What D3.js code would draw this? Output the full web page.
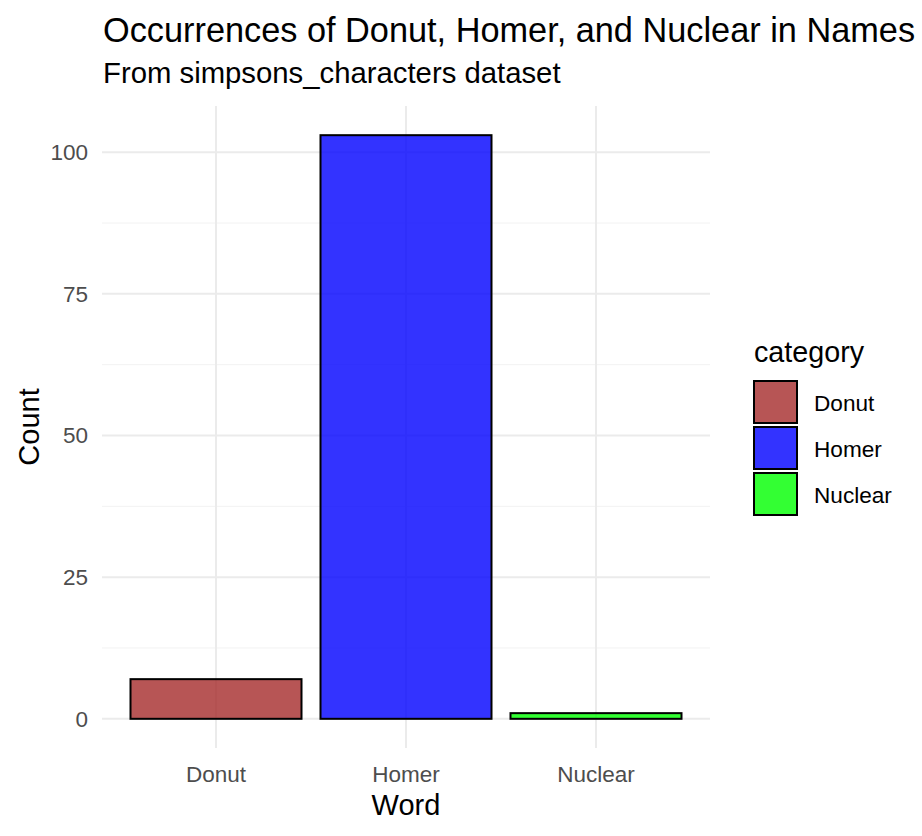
<!DOCTYPE html>
<html>
<head>
<meta charset="utf-8">
<script src="https://cdn.jsdelivr.net/npm/d3@7"></script>
<style>
  body { margin: 0; background: #fff; }
  text { font-family: "Liberation Sans", Arial, sans-serif; }
</style>
</head>
<body>
<div id="container"></div>
<script>
// data
var words = ["Donut", "Homer", "Nuclear"];
var counts = [7, 103, 1];
var fills = ["#A52A2A", "#0000FF", "#00FF00"];
var yTicks = [0, 25, 50, 75, 100];
var yMinor = [12.5, 37.5, 62.5, 87.5];

var W = 922, H = 836;
var panel = { left: 102, right: 710, top: 106, bottom: 748 };

var svg = d3.select("#container").append("svg")
    .attr("width", W).attr("height", H);

// discrete x like ggplot: positions 1..3 with 0.6 padding each side
var x = d3.scaleLinear().domain([0.4, 3.6]).range([panel.left, panel.right]);
var unit = x(2) - x(1);
var maxV = d3.max(counts);
var y = d3.scaleLinear().domain([-maxV * 0.05, maxV * 1.05]).range([panel.bottom, panel.top]);

// minor grid
svg.append("g").selectAll("line").data(yMinor).enter().append("line")
    .attr("x1", panel.left).attr("x2", panel.right)
    .attr("y1", d => y(d)).attr("y2", d => y(d))
    .attr("stroke", "#f2f2f2").attr("stroke-width", 1);

// major grid
svg.append("g").selectAll("line").data(yTicks).enter().append("line")
    .attr("x1", panel.left).attr("x2", panel.right)
    .attr("y1", d => y(d)).attr("y2", d => y(d))
    .attr("stroke", "#ebebeb").attr("stroke-width", 2);

svg.append("g").selectAll("line").data(words).enter().append("line")
    .attr("x1", (d, i) => x(i + 1)).attr("x2", (d, i) => x(i + 1))
    .attr("y1", panel.top).attr("y2", panel.bottom)
    .attr("stroke", "#ebebeb").attr("stroke-width", 2);

// bars
svg.append("g").selectAll("rect").data(counts).enter().append("rect")
    .attr("x", (d, i) => x(i + 1) - unit * 0.45)
    .attr("width", unit * 0.9)
    .attr("y", d => y(d))
    .attr("height", d => y(0) - y(d))
    .attr("fill", (d, i) => fills[i])
    .attr("fill-opacity", 0.8)
    .attr("stroke", "#000")
    .attr("stroke-width", 2);

// y tick labels
svg.append("g").selectAll("text").data(yTicks).enter().append("text")
    .attr("x", 88).attr("y", d => y(d))
    .attr("dy", "0.35em")
    .attr("text-anchor", "end")
    .attr("font-size", 22.5)
    .attr("fill", "#4d4d4d")
    .text(d => d);

// x tick labels
svg.append("g").selectAll("text").data(words).enter().append("text")
    .attr("x", (d, i) => x(i + 1)).attr("y", 782)
    .attr("text-anchor", "middle")
    .attr("font-size", 22.5)
    .attr("fill", "#4d4d4d")
    .text(d => d);

// axis titles
svg.append("text")
    .attr("x", (panel.left + panel.right) / 2).attr("y", 815)
    .attr("text-anchor", "middle").attr("font-size", 29)
    .text("Word");

svg.append("text")
    .attr("transform", "translate(39," + ((panel.top + panel.bottom) / 2) + ") rotate(-90)")
    .attr("text-anchor", "middle").attr("font-size", 29)
    .text("Count");

// title + subtitle
svg.append("text").attr("x", 103).attr("y", 42)
    .attr("font-size", 34.3).text("Occurrences of Donut, Homer, and Nuclear in Names");
svg.append("text").attr("x", 103).attr("y", 83)
    .attr("font-size", 29.3).text("From simpsons_characters dataset");

// legend
var leg = svg.append("g").attr("transform", "translate(754,0)");
leg.append("text").attr("x", 0).attr("y", 362).attr("font-size", 28.7).text("category");
var keys = leg.selectAll("g.key").data(words).enter().append("g")
    .attr("transform", (d, i) => "translate(0," + (381 + i * 46) + ")");
keys.append("rect")
    .attr("x", 0).attr("y", 0).attr("width", 43).attr("height", 42)
    .attr("fill", (d, i) => fills[i]).attr("fill-opacity", 0.8)
    .attr("stroke", "#000").attr("stroke-width", 2);
keys.append("text")
    .attr("x", 60).attr("y", 22).attr("dy", "0.35em")
    .attr("font-size", 22.6).text(d => d);
</script>
</body>
</html>
